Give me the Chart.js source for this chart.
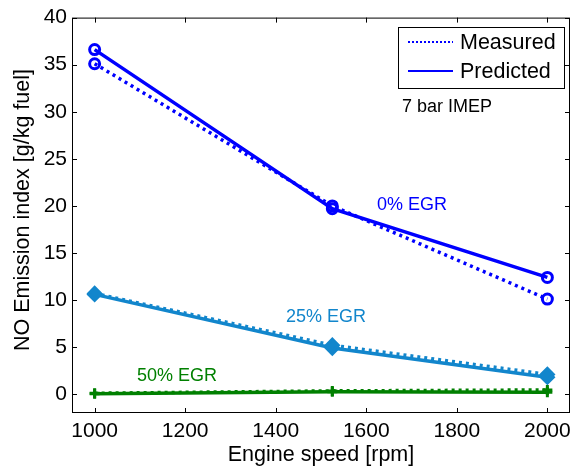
<!DOCTYPE html>
<html><head><meta charset="utf-8">
<script src="https://cdn.jsdelivr.net/npm/chart.js@4.4.1/dist/chart.umd.min.js"></script>
<style>html,body{margin:0;padding:0;background:#fff}#wrap{width:579px;height:468px}</style>
</head><body><div id="wrap"><canvas id="c" width="579" height="468"></canvas></div>
<script>
const speeds = [1000, 1525, 2000];
const measured0 = [35.1, 20.0, 10.1];
const predicted0 = [36.6, 19.7, 12.4];
const measured25 = [10.7, 5.2, 2.1];
const predicted25 = [10.6, 4.9, 1.8];
const measured50 = [0.1, 0.35, 0.45];
const predicted50 = [0.05, 0.25, 0.2];
const xTicks = [1000, 1200, 1400, 1600, 1800, 2000];
const yTicks = [0, 5, 10, 15, 20, 25, 30, 35, 40];
const xTitle = 'Engine speed [rpm]';
const yTitle = 'NO Emission index [g/kg fuel]';

const C0 = 'rgb(0,0,255)', C25 = 'rgb(18,134,204)', C50 = 'rgb(0,128,0)';
const pts = arr => speeds.map((s, i) => ({x: s, y: arr[i]}));
function ds(label, arr, color, dashed, style, r) {
  return {label, data: pts(arr), borderColor: color, backgroundColor: color,
    borderWidth: 3.5, borderDash: dashed ? [3, 4] : [], pointStyle: style,
    pointRadius: r, pointBorderWidth: 3, pointBackgroundColor: style === 'circle' ? 'rgba(0,0,0,0)' : color,
    pointBorderColor: color, tension: 0, fill: false};
}
const FONT = '"Liberation Sans", Arial, sans-serif';

const deco = {
  id: 'deco',
  afterDraw(chart) {
    const ctx = chart.ctx, a = chart.chartArea, xs = chart.scales.x, ys = chart.scales.y;
    ctx.save();
    ctx.strokeStyle = '#000'; ctx.lineWidth = 1;
    ctx.strokeRect(a.left + 0.5, a.top + 0.5, a.right - a.left - 1, a.bottom - a.top - 1);
    ctx.beginPath();
    xTicks.forEach(v => { const p = Math.round(xs.getPixelForValue(v)) + 0.5;
      ctx.moveTo(p, a.bottom); ctx.lineTo(p, a.bottom - 5);
      ctx.moveTo(p, a.top); ctx.lineTo(p, a.top + 5); });
    yTicks.forEach(v => { const p = Math.round(ys.getPixelForValue(v)) + 0.5;
      ctx.moveTo(a.left, p); ctx.lineTo(a.left + 5, p);
      ctx.moveTo(a.right, p); ctx.lineTo(a.right - 5, p); });
    ctx.stroke();
    // axis titles
    ctx.fillStyle = '#000'; ctx.font = '21.5px ' + FONT;
    ctx.textAlign = 'center'; ctx.textBaseline = 'middle';
    ctx.fillText(xTitle, (a.left + a.right) / 2, 455);
    ctx.save(); ctx.translate(23, 210); ctx.rotate(-Math.PI / 2);
    ctx.fillText(yTitle, 0, 0); ctx.restore();
    // annotations
    ctx.font = '18px ' + FONT; ctx.textBaseline = 'middle'; ctx.textAlign = 'left';
    ctx.fillStyle = C0; ctx.fillText('0% EGR', 377, 205);
    ctx.fillStyle = C25; ctx.fillText('25% EGR', 286, 317);
    ctx.fillStyle = C50; ctx.fillText('50% EGR', 137, 376);
    ctx.fillStyle = '#000'; ctx.fillText('7 bar IMEP', 402, 107);
    // legend
    ctx.fillStyle = '#fff'; ctx.fillRect(398, 27, 167, 62);
    ctx.strokeStyle = '#000'; ctx.lineWidth = 1; ctx.strokeRect(398.5, 27.5, 166, 61);
    ctx.strokeStyle = C0; ctx.lineWidth = 2;
    ctx.setLineDash([2, 2]); ctx.beginPath(); ctx.moveTo(408, 42); ctx.lineTo(453, 42); ctx.stroke();
    ctx.setLineDash([]); ctx.beginPath(); ctx.moveTo(408, 71); ctx.lineTo(453, 71); ctx.stroke();
    ctx.fillStyle = '#000'; ctx.font = '21.5px ' + FONT;
    ctx.fillText('Measured', 460, 43); ctx.fillText('Predicted', 460, 72);
    ctx.restore();
  }
};

new Chart(document.getElementById('c'), {
  type: 'line',
  data: {datasets: [
    ds('Measured 0%', measured0, C0, true, 'circle', 5),
    ds('Predicted 0%', predicted0, C0, false, 'circle', 5),
    ds('Measured 25%', measured25, C25, true, 'rectRot', 6),
    ds('Predicted 25%', predicted25, C25, false, 'rectRot', 6),
    ds('Measured 50%', measured50, C50, true, 'cross', 5),
    ds('Predicted 50%', predicted50, C50, false, 'cross', 5)
  ]},
  options: {
    responsive: false, animation: false, devicePixelRatio: 1,
    layout: {padding: {top: 17, right: 2, left: 0, bottom: 0}},
    plugins: {legend: {display: false}, tooltip: {enabled: false}},
    scales: {
      x: {type: 'linear', min: 950, max: 2050,
        afterBuildTicks: s => { s.ticks = xTicks.map(v => ({value: v})); },
        afterFit: s => { s.height = 55; },
        grid: {display: false, drawTicks: false}, border: {display: false},
        ticks: {padding: 6, color: '#000', font: {family: FONT, size: 21}, callback: v => String(v)}},
      y: {type: 'linear', min: -2, max: 40,
        afterBuildTicks: s => { s.ticks = yTicks.map(v => ({value: v})); },
        afterFit: s => { s.width = 72; },
        grid: {display: false, drawTicks: false}, border: {display: false},
        ticks: {padding: 5, color: '#000', font: {family: FONT, size: 21}, callback: v => String(v)}}
    }
  },
  plugins: [deco]
});
</script></body></html>
